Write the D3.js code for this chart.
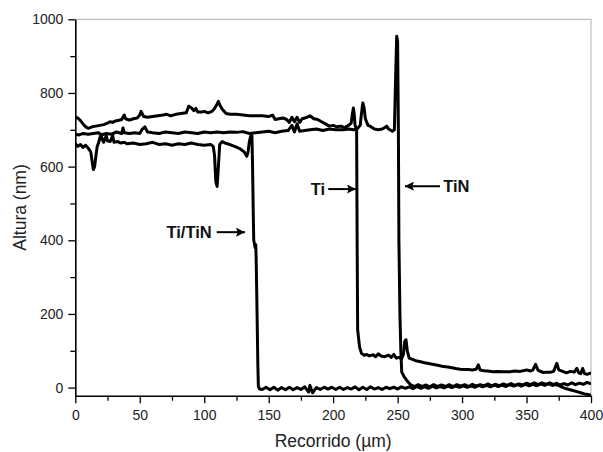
<!DOCTYPE html>
<html>
<head>
<meta charset="utf-8">
<script src="https://cdn.jsdelivr.net/npm/d3@7"></script>
<style>
  body { margin: 0; background: #fff; }
  svg { display: block; font-family: "Liberation Sans", Arial, sans-serif; }
  .tick text { fill: #222; font-size: 14px; }
</style>
</head>
<body>
<div class="chart"></div>
<script>
// tick values
const xMajor = [0, 50, 100, 150, 200, 250, 300, 350, 400];
const xMinor = [25, 75, 125, 175, 225, 275, 325, 375];
const yMajor = [0, 200, 400, 600, 800, 1000];
const yMinor = [100, 300, 500, 700, 900];

// Ti/TiN profile: step at ~138 um
const tiTiN = [
  [0,662],[2,655],[4,660],[6,652],[8,658],[10,650],[12,640],[13,615],[14,592],[15,600],[16,630],[17,655],
  [18,664],[19,678],[20,688],[21,672],[22,666],[24,684],[25,670],[27,668],[29,684],[30,666],[33,668],
  [35,664],[38,666],[40,662],[45,664],[50,660],[55,662],[60,666],[65,660],[70,662],[75,658],[80,662],
  [85,660],[90,664],[95,660],[100,658],[105,660],[107,655],[108,630],[109,560],[110,546],[111,600],
  [112,660],[114,668],[116,664],[120,660],[124,654],[128,648],[131,640],[133,628],[134,640],[135,668],
  [136,682],[137,684],[137.5,600],[138,480],[138.4,400],[139,390],[139.5,380],[140,388],[140.3,347],
  [141,200],[141.6,60],[142,3],[143,-4],
  [145,-5],[148,1],[151,-6],[154,1],[157,-7],[160,0],[163,-6],[166,1],[169,-6],[172,0],[175,-5],[178,2],
  [181,-12],[182,6],[184,-14],[187,0],[190,-5],[193,1],[196,-4],[199,1],[202,-5],[205,1],[208,-5],
  [211,0],[214,-4],[217,2],[220,-6],[223,1],[226,-5],[229,2],[232,-4],[235,0],[238,-5],[241,1],[244,-3],
  [247,1],[250,-4],[253,2],[256,-2],[259,2],[262,-3],[265,3],[268,-2],[271,2],[274,-2],[277,4],[280,-1],
  [283,3],[286,-1],[289,4],[292,0],[295,4],[298,1],[301,5],[304,1],[307,4],[310,1],[313,6],[316,2],
  [319,6],[322,2],[325,7],[328,3],[331,7],[334,3],[337,8],[340,4],[343,8],[346,4],[349,9],[352,5],
  [355,9],[358,5],[361,10],[364,6],[367,11],[370,6],[373,12],[376,7],[379,11],[382,7],[385,13],[388,8],
  [391,12],[394,9],[397,14],[400,10]
];

// Ti profile: step at ~218 um
const ti = [
  [0,735],[2,732],[4,725],[6,716],[8,708],[10,704],[13,708],[16,710],[19,712],[22,714],[25,718],[27,722],
  [29,720],[31,724],[34,726],[36,728],[38,740],[39,730],[42,726],[45,730],[48,732],[50,740],[51,750],
  [53,736],[56,734],[60,736],[64,738],[68,740],[71,742],[74,738],[78,742],[82,744],[86,746],[88,764],
  [90,760],[92,752],[93.5,758],[95,748],[98,748],[100,750],[103,746],[106,750],[108,758],[110,770],
  [111,777],[112,768],[114,756],[117,744],[120,742],[125,742],[130,740],[135,738],[140,738],[145,738],
  [150,736],[153,740],[155,728],[158,730],[161,732],[164,728],[166,720],[168,734],[170,722],[172,734],
  [174,720],[176,730],[178,732],[182,738],[185,730],[188,728],[191,722],[194,716],[197,710],[200,712],
  [203,708],[206,710],[209,706],[212,712],[214,718],[215,745],[215.7,759],[216.4,740],[217,712],
  [218.2,700],[218.6,400],[219,157],[220.5,110],[222,93],[224,88],[226,90],[228,86],[231,89],[233,84],
  [235,92],[237,86],[240,84],[243,88],[245,82],[247,90],[249,80],[251,82],[253,78],[254.5,90],
  [255.5,125],[256.5,130],[257.5,100],[259,80],[262,76],[265,72],[267,71],[270,68],[273,66],[276,64],
  [279,62],[282,60],[285.5,57],[289,56],[292,54],[295,52],[298.5,50],[302,49],[305,49],[308,48],
  [311,50],[312.6,62],[314,48],[317,46],[320,45],[324,43],[328,44],[332,43],[337,43],[341,45],[345,44],
  [350,48],[353,45],[355,48],[357,63],[359,47],[363,41],[366,42],[369,42],[371,44],[373.5,66],[375,48],
  [378,44],[381,40],[384,44],[387,42],[389,52],[390.5,40],[392,38],[393.5,52],[395,38],[397,36],[400,40]
];

// TiN profile: step at ~251 um
const tiN = [
  [0,688],[3,686],[6,690],[10,688],[14,690],[18,692],[20,686],[24,690],[28,688],[32,694],[36,690],
  [37,705],[38,692],[42,690],[46,692],[50,690],[52,702],[54,708],[56,694],[60,692],[65,690],[70,694],
  [75,692],[80,690],[85,694],[90,692],[95,690],[100,694],[105,692],[110,694],[115,692],[120,694],
  [125,693],[130,695],[135,690],[140,692],[145,694],[150,696],[155,692],[160,696],[165,698],[168,712],
  [170,694],[172,716],[174,696],[178,698],[182,700],[187,702],[192,698],[197,702],[202,700],[208,700],
  [212,702],[216,700],[219,704],[221,712],[222,745],[223,773],[224,760],[225,730],[227,712],[229,709],
  [232,702],[235,700],[238,702],[240,706],[241.5,710],[243,702],[246,696],[247.5,700],[248.5,850],
  [249.3,954],[250,940],[250.6,700],[251,400],[251.8,200],[252.5,100],[253.2,42],[255,30],[257,20],
  [260,8],[263,3],[266,8],[269,3],[272,7],[275,2],[278,8],[281,3],[284,7],[287,3],[290,8],[293,3],
  [296,8],[299,4],[302,8],[305,3],[308,9],[311,4],[314,8],[317,5],[320,10],[323,5],[326,9],[329,5],
  [332,10],[335,6],[338,11],[341,6],[344,10],[347,7],[350,12],[353,8],[356,13],[359,8],[362,13],[365,9],
  [368,13],[371,8],[374,7],[377,2],[380,-2],[383,-5],[386,-8],[389,-11],[392,-14],[395,-17],[398,-19],
  [400,-21]
];

const profiles = [tiTiN, ti, tiN];

// labels with arrows, in data units
const labels = [
  { text: "Ti/TiN", tx: 105.8, ty: 422, anchor: "end",   ax0: 109.7, ax1: 131.6, ay: 422 },
  { text: "Ti",     tx: 193.7, ty: 539, anchor: "end",   ax0: 196.2, ax1: 217.7, ay: 539 },
  { text: "TiN",    tx: 285.4, ty: 547, anchor: "start", ax0: 282.9, ax1: 255.7, ay: 547 }
];

const margin = ({ top: 19.3, right: 12, bottom: 56.3, left: 75.3 });
const width = 603 - margin.left - margin.right;
const height = 452 - margin.top - margin.bottom;

var svg = d3.select(".chart").append("svg")
    .attr("width", 603)
    .attr("height", 452);

svg.append("defs").append("marker")
    .attr("id", "head")
    .attr("viewBox", "0 0 10 10")
    .attr("refX", 10).attr("refY", 5)
    .attr("markerWidth", 4.5).attr("markerHeight", 4.5)
    .attr("markerUnits", "strokeWidth")
    .attr("orient", "auto")
  .append("path")
    .attr("d", "M0,0 L10,5 L0,10 L2,5 Z")
    .attr("fill", "#000");

svg.select("defs").append("clipPath").attr("id", "clip")
  .append("rect").attr("width", width).attr("height", height + 1);

var g = svg.append("g").attr("transform", `translate(${margin.left}, ${margin.top})`);

var x = d3.scaleLinear().domain([0, 400]).range([0, width]);
var y = d3.scaleLinear().domain([-22, 1000]).range([height, 0]);

// light frame on top and right
g.append("path")
    .attr("d", `M0,0 H${width} V${height}`)
    .attr("fill", "none")
    .attr("stroke", "#bdbdbd")
    .attr("stroke-width", 1.2);

// minor ticks
g.append("g").attr("transform", `translate(0, ${height})`)
    .call(d3.axisBottom(x).tickValues(xMinor).tickSize(5).tickFormat(""))
    .call(a => a.select(".domain").remove());
g.append("g")
    .call(d3.axisLeft(y).tickValues(yMinor).tickSize(5).tickFormat(""))
    .call(a => a.select(".domain").remove());

// major axes
g.append("g").attr("transform", `translate(0, ${height})`)
    .call(d3.axisBottom(x).tickValues(xMajor).tickFormat(d3.format("d"))
      .tickSize(7.5).tickSizeOuter(0).tickPadding(7));
g.append("g")
    .call(d3.axisLeft(y).tickValues(yMajor).tickFormat(d3.format("d"))
      .tickSize(7).tickSizeOuter(0).tickPadding(5));

svg.selectAll(".tick line").attr("stroke", "#000").attr("stroke-width", 1.3);
svg.selectAll(".domain").attr("stroke", "#000").attr("stroke-width", 1.6);

// profiles
var line = d3.line().x(d => x(d[0])).y(d => y(d[1]));

g.append("g").attr("clip-path", "url(#clip)")
  .selectAll("path")
  .data(profiles)
  .join("path")
    .attr("d", line)
    .attr("fill", "none")
    .attr("stroke", "#000")
    .attr("stroke-width", 3)
    .attr("stroke-linejoin", "round");

// annotations
var ann = g.append("g");
ann.selectAll("line")
  .data(labels)
  .join("line")
    .attr("x1", d => x(d.ax0)).attr("x2", d => x(d.ax1))
    .attr("y1", d => y(d.ay)).attr("y2", d => y(d.ay))
    .attr("stroke", "#000")
    .attr("stroke-width", 2)
    .attr("marker-end", "url(#head)");

ann.selectAll("text")
  .data(labels)
  .join("text")
    .attr("x", d => x(d.tx))
    .attr("y", d => y(d.ty))
    .attr("dy", "0.36em")
    .attr("text-anchor", d => d.anchor)
    .attr("font-weight", "bold")
    .attr("font-size", 16.5)
    .attr("fill", "#111")
    .text(d => d.text);

// axis titles
svg.append("text")
    .attr("x", margin.left + width / 2)
    .attr("y", 447)
    .attr("text-anchor", "middle")
    .attr("font-size", 17.5)
    .attr("fill", "#222")
    .text("Recorrido (\u00b5m)");

svg.append("text")
    .attr("transform", `translate(25.5, ${margin.top + height / 2}) rotate(-90)`)
    .attr("text-anchor", "middle")
    .attr("font-size", 17.5)
    .attr("fill", "#222")
    .text("Altura (nm)");
</script>
</body>
</html>
